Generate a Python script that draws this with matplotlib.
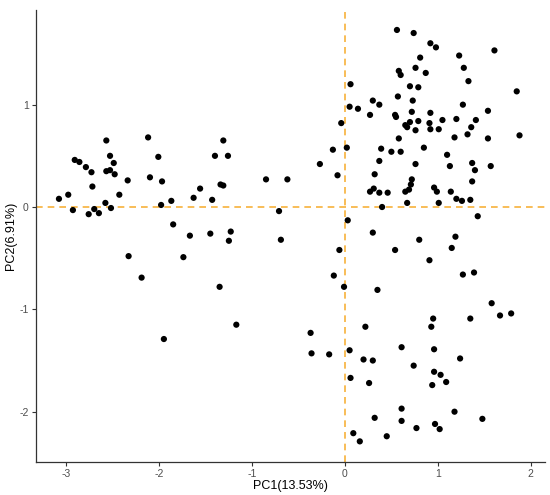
import matplotlib
matplotlib.use("Agg")
import matplotlib.pyplot as plt

plt.rcParams['font.family'] = ['Liberation Sans', 'DejaVu Sans']
plt.rcParams['axes.unicode_minus'] = False

# PCA scores (PC1, PC2)
pc1 = [
    -3.08, -2.98, -2.93, -2.91, -2.86, -2.79, -2.73, -2.72, -2.76, -2.70,
    -2.65, -2.58, -2.52, -2.57, -2.53, -2.49, -2.57, -2.53, -2.48, -2.43,
    -2.34, -2.12, -2.01, -2.10, -1.97, -1.98, -1.87, -1.85, -1.63, -1.56,
    -1.43, -1.40, -1.31, -1.26, -1.34, -1.31, -1.67, -1.45, -1.23, -1.25,
    -0.85, -0.62, -0.71, -0.69, -0.27, -0.13, -0.08, -0.04, 0.02, 0.03,
    -0.06, -2.33, -1.74, -2.19, -1.35, -1.17, -1.95, 0.56, 0.74, 0.81,
    0.76, 0.58, 0.60, 0.06, 0.70, 0.79, 0.57, 0.73, 0.30, 0.37,
    0.05, 0.14, 0.72, 0.27, 0.54, 0.55, 0.79, 0.70, 0.65, 0.67,
    0.76, 0.58, 0.39, 0.92, 0.98, 1.61, 1.23, 1.28, 0.87, 1.33,
    1.85, 1.27, 1.54, 0.92, 0.91, 1.05, 1.20, 1.41, 0.92, 1.01,
    1.36, 1.32, 1.18, 1.54, 1.88, 0.85, 0.50, 0.60, 0.37, 0.76,
    0.32, 0.72, 0.71, 0.31, 0.27, 0.37, 0.46, 0.65, 0.69, 0.67,
    0.40, 0.30, 0.80, 0.54, 1.10, 1.13, 1.37, 1.57, 1.40, 1.37,
    0.96, 0.99, 1.14, 1.01, 1.20, 1.26, 1.35, 1.43, 1.19, 1.15,
    0.91, -0.12, -0.01, 0.35, 0.22, -0.37, -0.36, -0.17, 0.05, 0.61,
    0.20, 0.30, 0.74, 0.06, 0.26, 0.61, 0.32, 0.61, 0.77, 0.09,
    0.16, 0.45, 1.27, 1.39, 1.58, 0.95, 0.93, 1.35, 1.67, 1.79,
    0.96, 1.24, 0.96, 1.03, 1.09, 0.94, 1.18, 1.48, 0.97, 1.02,
]
pc2 = [
    0.08, 0.12, -0.03, 0.46, 0.44, 0.39, 0.34, 0.20, -0.07, -0.02,
    -0.06, 0.04, -0.01, 0.65, 0.50, 0.43, 0.35, 0.36, 0.32, 0.12,
    0.26, 0.68, 0.49, 0.29, 0.25, 0.02, 0.06, -0.17, 0.09, 0.18,
    0.07, 0.50, 0.65, 0.50, 0.22, 0.21, -0.28, -0.26, -0.24, -0.33,
    0.27, 0.27, -0.04, -0.32, 0.42, 0.56, 0.31, 0.82, 0.58, -0.13,
    -0.42, -0.48, -0.49, -0.69, -0.78, -1.15, -1.29, 1.73, 1.70, 1.46,
    1.36, 1.33, 1.29, 1.20, 1.18, 1.17, 1.08, 1.04, 1.04, 1.00,
    0.98, 0.96, 0.93, 0.90, 0.90, 0.88, 0.84, 0.83, 0.80, 0.78,
    0.75, 0.67, 0.57, 1.60, 1.56, 1.53, 1.48, 1.36, 1.31, 1.23,
    1.13, 1.00, 0.94, 0.92, 0.82, 0.85, 0.86, 0.85, 0.76, 0.76,
    0.78, 0.71, 0.68, 0.67, 0.70, 0.58, 0.54, 0.54, 0.45, 0.42,
    0.32, 0.27, 0.22, 0.18, 0.15, 0.14, 0.14, 0.15, 0.17, 0.04,
    0.00, -0.25, -0.32, -0.42, 0.51, 0.40, 0.43, 0.40, 0.36, 0.25,
    0.19, 0.15, 0.15, 0.04, 0.08, 0.06, 0.07, -0.09, -0.29, -0.40,
    -0.52, -0.67, -0.78, -0.81, -1.17, -1.23, -1.43, -1.44, -1.40, -1.37,
    -1.49, -1.50, -1.55, -1.67, -1.72, -1.97, -2.06, -2.09, -2.16, -2.21,
    -2.29, -2.24, -0.66, -0.64, -0.94, -1.09, -1.17, -1.09, -1.06, -1.04,
    -1.39, -1.48, -1.61, -1.64, -1.71, -1.74, -2.00, -2.07, -2.12, -2.17,
]
x_ticks = [-3, -2, -1, 0, 1, 2]
y_ticks = [-2, -1, 0, 1]

fig = plt.figure(figsize=(5.5, 4.95), dpi=100)
ax = fig.add_axes([0.065, 0.067, 0.926, 0.913])

# reference lines at the origin
ax.axhline(0, color='#F7B23B', linestyle=(0, (4, 3)), linewidth=1.2, zorder=1)
ax.axvline(0, color='#F7B23B', linestyle=(0, (4, 3)), linewidth=1.2, zorder=1)

ax.scatter(pc1, pc2, s=20, color='black', edgecolors='none', zorder=3)

ax.set_xlim(-3.33, 2.155)
ax.set_ylim(-2.49, 1.926)
ax.set_xticks(x_ticks)
ax.set_yticks(y_ticks)

for side in ['top', 'right']:
    ax.spines[side].set_visible(False)
for side in ['left', 'bottom']:
    ax.spines[side].set_color('#333333')
    ax.spines[side].set_linewidth(0.9)

ax.tick_params(direction='out', length=3, width=0.8, color='#333333',
               labelsize=7.5, labelcolor='#4d4d4d', pad=2)

ax.set_xlabel('PC1(13.53%)', fontsize=9, labelpad=1)
ax.set_ylabel('PC2(6.91%)', fontsize=9, labelpad=2)

fig.savefig('out.png', dpi=100)
